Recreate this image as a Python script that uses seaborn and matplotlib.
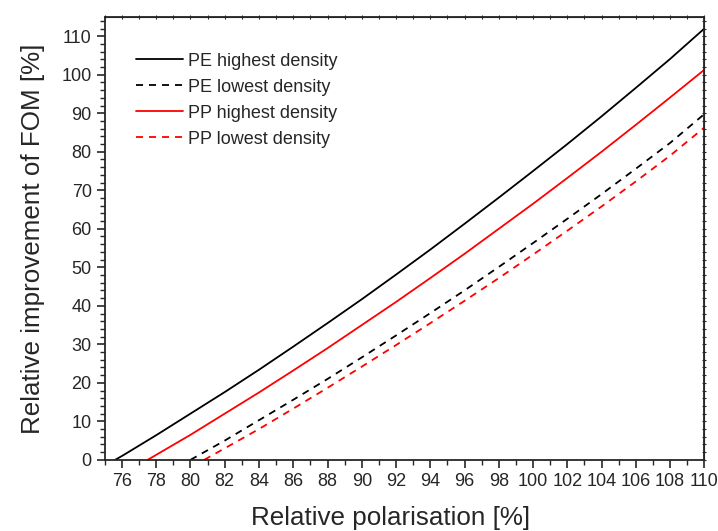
import pandas as pd
import seaborn as sns
import matplotlib.pyplot as plt
from matplotlib.ticker import MultipleLocator

# values
pe_high_x = [75.6, 76, 78, 80, 82, 84, 86, 88, 90, 92, 94, 96, 98, 100, 102, 104, 106, 108, 110]
pe_high_y = [0, 1, 6.4, 12, 17.6, 23.4, 29.4, 35.5, 41.7, 48.1, 54.6, 61.3, 68.1, 75, 82, 89.2, 96.6, 104.1, 112]
pe_low_x = [80, 82, 84, 86, 88, 90, 92, 94, 96, 98, 100, 102, 104, 106, 108, 110]
pe_low_y = [0, 5, 10.3, 15.6, 21, 26.6, 32.3, 38.1, 44, 50.1, 56.3, 62.6, 69, 75.6, 82.3, 89.8]
pp_high_x = [77.5, 78, 80, 82, 84, 86, 88, 90, 92, 94, 96, 98, 100, 102, 104, 106, 108, 110]
pp_high_y = [0, 1.3, 6.5, 12, 17.5, 23.2, 29, 35, 41, 47.2, 53.5, 60, 66.5, 73.2, 80, 87, 94.1, 101.3]
pp_low_x = [80.8, 82, 84, 86, 88, 90, 92, 94, 96, 98, 100, 102, 104, 106, 108, 110]
pp_low_y = [0, 3, 8, 13.3, 18.7, 24.2, 29.8, 35.5, 41.3, 47.2, 53.3, 59.5, 65.8, 72.3, 79, 86.3]

dashed = (0, (3.9, 3.3))
series = [
    ("PE highest density", pe_high_x, pe_high_y, "black", "-"),
    ("PE lowest density", pe_low_x, pe_low_y, "black", dashed),
    ("PP highest density", pp_high_x, pp_high_y, "red", "-"),
    ("PP lowest density", pp_low_x, pp_low_y, "red", dashed),
]

sns.set_style("ticks")
plt.rcParams['font.family'] = ['Liberation Sans', 'DejaVu Sans']

fig = plt.figure(figsize=(7.18, 5.31), dpi=100)
ax = fig.add_axes([0.146, 0.134, 0.835, 0.834])

for name, xs, ys, color, ls in series:
    df = pd.DataFrame({"x": xs, "y": ys})
    sns.lineplot(data=df, x="x", y="y", ax=ax, color=color, linestyle=ls,
                 linewidth=1.3, label=name)

ax.set_xlim(75, 110)
ax.set_ylim(0, 115)
ax.xaxis.set_minor_locator(MultipleLocator(1))
ax.yaxis.set_major_locator(MultipleLocator(10))
ax.yaxis.set_minor_locator(MultipleLocator(2))
ax.set_xticks(range(76, 111, 2))

ax.tick_params(which='major', direction='out', length=6, width=1.2, labelsize=13,
               top=False, right=False)
ax.tick_params(which='minor', direction='out', length=3.5, width=1.0,
               top=False, right=False)
for s in ax.spines.values():
    s.set_linewidth(1.3)

# small ticks on top and right like the original
sec_x = ax.secondary_xaxis('top')
sec_x.xaxis.set_major_locator(MultipleLocator(1))
sec_x.tick_params(direction='inout', length=3, width=0.8, labeltop=False)
sec_y = ax.secondary_yaxis('right')
sec_y.yaxis.set_major_locator(MultipleLocator(2))
sec_y.tick_params(direction='inout', length=3, width=0.8, labelright=False)

ax.set_xlabel("Relative polarisation [%]", fontsize=18.7, labelpad=12)
ax.set_ylabel("Relative improvement of FOM [%]", fontsize=18.7, labelpad=12)
ax.xaxis.set_label_coords(0.477, -0.105)

ax.legend(loc='upper left', frameon=False, fontsize=13, handlelength=2.6,
          handletextpad=0.25, labelspacing=0.5, bbox_to_anchor=(0.025, 0.956))

fig.savefig("out.png", dpi=100)
